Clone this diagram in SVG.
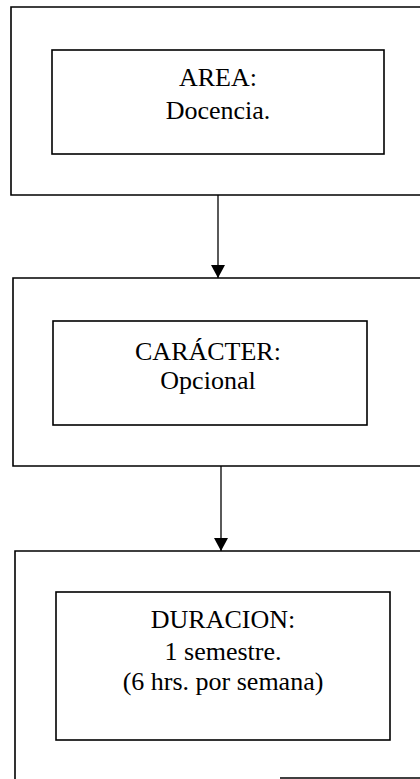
<svg xmlns="http://www.w3.org/2000/svg" width="420" height="779" viewBox="0 0 420 779">
<style>
.frame{fill:none;stroke:#000;stroke-width:1.6}
.box{fill:#fff;stroke:#000;stroke-width:1.6}
.lbl{font-family:"Liberation Serif","Times New Roman",serif;font-size:26px;fill:#000;text-anchor:middle}
.conn{stroke:#000;stroke-width:1.3;fill:none}
</style>
<defs>
<marker id="arr" viewBox="0 0 13 14" refX="13" refY="7" markerWidth="13" markerHeight="14" markerUnits="userSpaceOnUse" orient="auto">
<path d="M0,0 L13,7 L0,14 Z" fill="#000"/>
</marker>
</defs>
<rect width="420" height="779" fill="#fff"/>
<g id="node-area">
<path class="frame" d="M422,7 H11 V195 H422"/>
<rect class="box" x="52" y="50" width="332" height="104"/>
<text class="lbl" x="218" y="86">AREA:</text>
<text class="lbl" x="218" y="119">Docencia.</text>
</g>
<g id="node-caracter">
<path class="frame" d="M422,278 H13 V466 H422"/>
<rect class="box" x="53" y="321" width="314" height="104"/>
<text class="lbl" x="208" y="360">CARÁCTER:</text>
<text class="lbl" x="208" y="389">Opcional</text>
</g>
<g id="node-duracion">
<path class="frame" d="M15,781 V551 H422"/>
<line class="frame" x1="280" y1="778" x2="422" y2="778"/>
<rect class="box" x="56" y="592" width="334" height="148"/>
<text class="lbl" x="223" y="628">DURACION:</text>
<text class="lbl" x="223" y="660">1 semestre.</text>
<text class="lbl" x="223" y="690">(6 hrs. por semana)</text>
</g>
<g id="connectors">
<line class="conn" x1="218" y1="195" x2="218" y2="278" marker-end="url(#arr)"/>
<line class="conn" x1="221" y1="466" x2="221" y2="551" marker-end="url(#arr)"/>
</g>
</svg>
